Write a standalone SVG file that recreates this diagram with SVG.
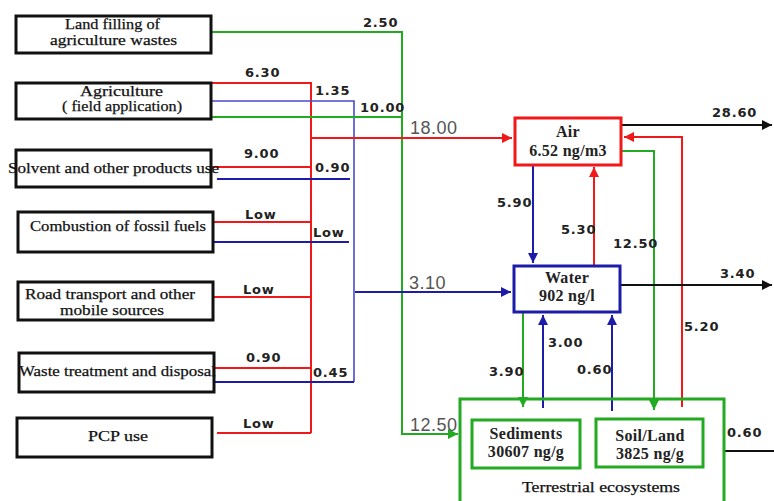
<svg xmlns="http://www.w3.org/2000/svg" width="774" height="501" viewBox="0 0 774 501">
<style>
.src{fill:#fff;stroke:#111;stroke-width:3}
.nt{font-family:"Liberation Serif",serif;font-size:15px;fill:#111;stroke:#111;stroke-width:0.25px;text-anchor:start}
.bt{font-family:"Liberation Serif",serif;font-size:16px;font-weight:bold;fill:#222;text-anchor:middle;letter-spacing:0.3px}
.lb{font-family:"DejaVu Sans",sans-serif;font-size:13px;font-weight:bold;fill:#222;letter-spacing:0.8px}
.gl{font-family:"Liberation Sans",sans-serif;font-size:18px;fill:#555;letter-spacing:0.5px}
.r{stroke:#f01818;stroke-width:2;fill:none}
.b{stroke:#1c1ca8;stroke-width:2;fill:none}
.bl{stroke:#4a4ad0;stroke-width:1.6;fill:none}
.g{stroke:#22aa22;stroke-width:2;fill:none}
.k{stroke:#111;stroke-width:2;fill:none}
</style>
<defs>
<marker id="ar" viewBox="0 0 10 10" refX="10" refY="5" markerWidth="5" markerHeight="5" orient="auto" markerUnits="strokeWidth"><path d="M0,0L10,5L0,10z" fill="#f01818"/></marker>
<marker id="ab" viewBox="0 0 10 10" refX="10" refY="5" markerWidth="5" markerHeight="5" orient="auto" markerUnits="strokeWidth"><path d="M0,0L10,5L0,10z" fill="#1c1ca8"/></marker>
<marker id="ag" viewBox="0 0 10 10" refX="10" refY="5" markerWidth="5" markerHeight="5" orient="auto" markerUnits="strokeWidth"><path d="M0,0L10,5L0,10z" fill="#22aa22"/></marker>
<marker id="ak" viewBox="0 0 10 10" refX="10" refY="5" markerWidth="5" markerHeight="5" orient="auto" markerUnits="strokeWidth"><path d="M0,0L10,5L0,10z" fill="#111"/></marker>
</defs>
<rect width="774" height="501" fill="#fff"/>

<g id="connectors">
  <path class="g" d="M211,32 H402 V434 H458" marker-end="url(#ag)"/>
  <path class="r" d="M211,83 H311 V433"/>
  <path class="bl" d="M211,101 H354 V382"/>
  <path class="g" d="M211,117 H402"/>
  <path class="r" d="M311,138 H512" marker-end="url(#ar)"/>
  <path class="r" d="M207,167 H311"/>
  <path class="b" d="M217,179 H350"/>
  <path class="r" d="M213,222 H311"/>
  <path class="b" d="M213,242 H349"/>
  <path class="r" d="M213,297 H311"/>
  <path class="r" d="M214,368 H311"/>
  <path class="b" d="M214,382 H354"/>
  <path class="r" d="M217,433 H311"/>
  <path class="b" d="M355,292 H511" marker-end="url(#ab)"/>
  <path class="b" d="M533,166 V263" marker-end="url(#ab)"/>
  <path class="r" d="M594,265 V167" marker-end="url(#ar)"/>
  <path class="g" d="M622,151 H654 V410" marker-end="url(#ag)"/>
  <path class="r" d="M682,407 V137 H624" marker-end="url(#ar)"/>
  <path class="k" d="M622,125 H772" marker-end="url(#ak)"/>
  <path class="k" d="M621,285 H772" marker-end="url(#ak)"/>
  <path class="k" d="M724,451 H774"/>
  <path class="g" d="M523,313 V407" marker-end="url(#ag)"/>
  <path class="b" d="M543,408 V315" marker-end="url(#ab)"/>
  <path class="b" d="M612,411 V315" marker-end="url(#ab)"/>
</g>

<g id="labels">
  <text class="lb" x="363" y="27">2.50</text>
  <text class="lb" x="245" y="77">6.30</text>
  <text class="lb" x="315" y="95">1.35</text>
  <text class="lb" x="360" y="112">10.00</text>
  <text class="gl" x="410" y="134">18.00</text>
  <text class="lb" x="244" y="158">9.00</text>
  <text class="lb" x="315" y="172">0.90</text>
  <text class="lb" x="245" y="219">Low</text>
  <text class="lb" x="313" y="237">Low</text>
  <text class="lb" x="243" y="294">Low</text>
  <text class="gl" x="409" y="289">3.10</text>
  <text class="lb" x="246" y="362">0.90</text>
  <text class="lb" x="313" y="377">0.45</text>
  <text class="lb" x="243" y="428">Low</text>
  <text class="gl" x="410" y="431">12.50</text>
  <text class="lb" x="712" y="117">28.60</text>
  <text class="lb" x="497" y="207">5.90</text>
  <text class="lb" x="561" y="234">5.30</text>
  <text class="lb" x="613" y="248">12.50</text>
  <text class="lb" x="720" y="278">3.40</text>
  <text class="lb" x="684" y="331">5.20</text>
  <text class="lb" x="548" y="347">3.00</text>
  <text class="lb" x="489" y="376">3.90</text>
  <text class="lb" x="577" y="374">0.60</text>
  <text class="lb" x="727" y="437">0.60</text>
</g>

<g id="n-landfill">
  <rect class="src" x="16" y="16" width="195" height="37"/>
  <text class="nt" x="65" y="29" textLength="95" lengthAdjust="spacingAndGlyphs">Land filling of</text>
  <text class="nt" x="50" y="45" textLength="127" lengthAdjust="spacingAndGlyphs">agriculture wastes</text>
</g>
<g id="n-agriculture">
  <rect class="src" x="16" y="83" width="195" height="36"/>
  <text class="nt" x="80" y="96" textLength="83" lengthAdjust="spacingAndGlyphs">Agriculture</text>
  <text class="nt" x="62" y="111" textLength="120" lengthAdjust="spacingAndGlyphs">( field application)</text>
</g>
<g id="n-solvent">
  <rect class="src" x="16" y="150" width="195" height="37"/>
  <text class="nt" x="8" y="173" textLength="211" lengthAdjust="spacingAndGlyphs">Solvent and other products use</text>
</g>
<g id="n-combustion">
  <rect class="src" x="18" y="212" width="195" height="40"/>
  <text class="nt" x="30" y="231" textLength="176" lengthAdjust="spacingAndGlyphs">Combustion of fossil fuels</text>
</g>
<g id="n-road">
  <rect class="src" x="18" y="282" width="195" height="38"/>
  <text class="nt" x="25" y="299" textLength="170" lengthAdjust="spacingAndGlyphs">Road transport and other</text>
  <text class="nt" x="60" y="315" textLength="104" lengthAdjust="spacingAndGlyphs">mobile sources</text>
</g>
<g id="n-waste">
  <text class="nt" x="19" y="376" textLength="197" lengthAdjust="spacingAndGlyphs">Waste treatment and disposal</text>
  <rect x="19" y="353" width="195" height="39" fill="none" stroke="#111" stroke-width="3"/>
</g>
<g id="n-pcp">
  <rect class="src" x="17" y="418" width="195" height="39"/>
  <text class="nt" x="88" y="441" textLength="60" lengthAdjust="spacingAndGlyphs">PCP use</text>
</g>

<g id="n-air">
  <rect x="515" y="118" width="106" height="47" fill="#fff" stroke="#f01818" stroke-width="3"/>
  <text class="bt" x="568" y="137">Air</text>
  <text class="bt" x="568" y="156">6.52 ng/m3</text>
</g>
<g id="n-water">
  <rect x="514" y="266" width="106" height="46" fill="#fff" stroke="#1c1ca8" stroke-width="3"/>
  <text class="bt" x="567" y="283">Water</text>
  <text class="bt" x="567" y="301">902 ng/l</text>
</g>
<g id="n-terrestrial">
  <rect x="460" y="399" width="264" height="110" fill="none" stroke="#22aa22" stroke-width="3"/>
  <text class="nt" x="522" y="492" textLength="158" lengthAdjust="spacingAndGlyphs">Terrestrial ecosystems</text>
</g>
<g id="n-sediments">
  <rect x="472" y="420" width="108" height="48" fill="#fff" stroke="#22aa22" stroke-width="3"/>
  <text class="bt" x="526" y="439">Sediments</text>
  <text class="bt" x="526" y="457">30607 ng/g</text>
</g>
<g id="n-soil">
  <rect x="596" y="419" width="107" height="48" fill="#fff" stroke="#22aa22" stroke-width="3"/>
  <text class="bt" x="650" y="441">Soil/Land</text>
  <text class="bt" x="650" y="459">3825 ng/g</text>
</g>
</svg>
